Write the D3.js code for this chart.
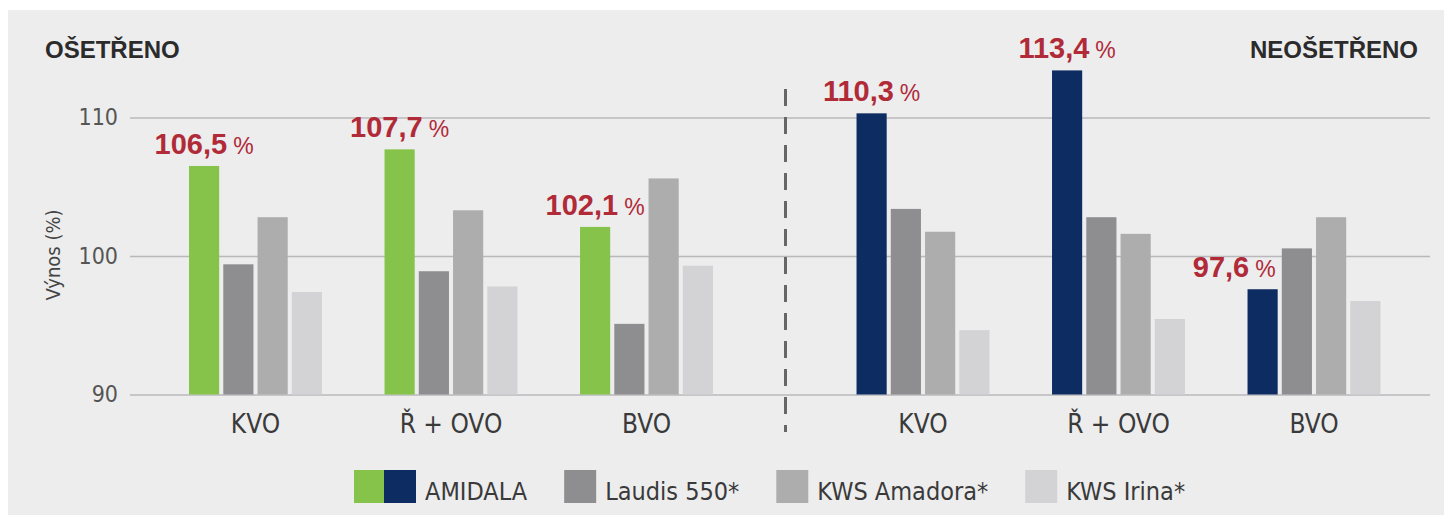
<!DOCTYPE html>
<html>
<head>
<meta charset="utf-8">
<script src="https://cdn.jsdelivr.net/npm/d3@7"></script>
<style>
body { margin: 0; background: #fff; }
text { font-family: "Liberation Sans Narrow", "DejaVu Sans Condensed", "Liberation Sans", sans-serif; }
</style>
</head>
<body>
<svg id="chart" width="1444" height="515"></svg>
<script>
// data
const groups = ['KVO', 'Ř + OVO', 'BVO']
const series = ['AMIDALA', 'Laudis 550*', 'KWS Amadora*', 'KWS Irina*']
const panelTitles = ['OŠETŘENO', 'NEOŠETŘENO']
const treated = [
    [106.5, 99.4, 102.8, 97.4],
    [107.7, 98.9, 103.3, 97.8],
    [102.1, 95.1, 105.6, 99.3]
]
const untreated = [
    [110.3, 103.4, 101.75, 94.65],
    [113.4, 102.8, 101.6, 95.45],
    [97.6, 100.55, 102.8, 96.75]
]
const yTicks = [90, 100, 110]

const colors = {
    'AMIDALA': ['#86c34a', '#0c2c62'],
    'Laudis 550*': '#8e8e90',
    'KWS Amadora*': '#adadae',
    'KWS Irina*': '#d3d3d5'
}
const red = '#b02a38'
const fmt = v => d3.format('.1f')(v).replace('.', ',')

const svg = d3.select('#chart')

svg.append('rect')
    .attr('x', 8).attr('y', 10)
    .attr('width', 1436).attr('height', 505)
    .attr('fill', '#ededee')

const gridLeft = 130, gridRight = 1430
const y = d3.scaleLinear().domain([90, 110]).range([394.5, 117.5])

// y axis with gridlines
const yAxis = svg.append('g')
    .attr('transform', 'translate(' + gridLeft + ',0)')
    .call(d3.axisLeft(y).tickValues(yTicks).tickSize(-(gridRight - gridLeft)).tickPadding(12))
yAxis.select('.domain').remove()
yAxis.selectAll('line').attr('stroke', '#b9b9bb').attr('stroke-width', 1.5)
yAxis.selectAll('text')
    .attr('fill', '#555')
    .style('font-size', '23px')

svg.append('text')
    .attr('transform', 'translate(60,255) rotate(-90)')
    .attr('text-anchor', 'middle')
    .attr('fill', '#444')
    .style('font-size', '20px')
    .text('Výnos (%)')

// two panels, each with its own band scale
const panels = [
    { title: panelTitles[0], values: treated, range: [157.75, 744.25], amidala: colors['AMIDALA'][0] },
    { title: panelTitles[1], values: untreated, range: [825.25, 1411.75], amidala: colors['AMIDALA'][1] }
]

panels.forEach((p, pi) => {
    const x0 = d3.scaleBand().domain(groups).range(p.range).paddingInner(0.32).paddingOuter(0.16)
    const x1 = d3.scaleBand().domain(series).range([0, x0.bandwidth()]).paddingInner(0.12)

    const g = svg.append('g')
    const grp = g.selectAll('.group')
        .data(groups)
        .enter().append('g')
        .attr('class', 'group')
        .attr('transform', d => 'translate(' + x0(d) + ',0)')

    grp.selectAll('rect')
        .data((d, i) => series.map((s, j) => ({ s: s, v: p.values[i][j] })))
        .enter().append('rect')
        .attr('x', d => x1(d.s))
        .attr('width', x1.bandwidth())
        .attr('y', d => y(d.v))
        .attr('height', d => y(90) - y(d.v))
        .attr('fill', d => d.s == 'AMIDALA' ? p.amidala : colors[d.s])

    // value label for AMIDALA
    grp.each(function (d, i) {
        const v = p.values[i][0]
        const below = v < 100
        const t = d3.select(this).append('text')
            .attr('x', below ? x1('AMIDALA') + x1.bandwidth() - 2 : x1('AMIDALA') + x1.bandwidth() / 2)
            .attr('y', y(v) - 12)
            .attr('text-anchor', below ? 'end' : 'middle')
            .attr('fill', red)
            .style('font-family', '"Liberation Sans", sans-serif')
        t.append('tspan').style('font-size', '29px').style('font-weight', 'bold').text(fmt(v))
        t.append('tspan').attr('dx', 6).style('font-size', '23px').text('%')
    })

    // category labels
    grp.append('text')
        .attr('x', x0.bandwidth() / 2)
        .attr('y', 433)
        .attr('text-anchor', 'middle')
        .attr('fill', '#3a3a3a')
        .style('font-size', '26px')
        .text(d => d)

    // panel title
    svg.append('text')
        .attr('x', pi == 0 ? 45 : 1418)
        .attr('y', 58)
        .attr('text-anchor', pi == 0 ? 'start' : 'end')
        .attr('fill', '#2b2b2b')
        .style('font-family', '"Liberation Sans", sans-serif')
        .style('font-size', '24px')
        .style('font-weight', 'bold')
        .text(p.title)
})

// dashed divider
svg.append('line')
    .attr('x1', 785.5).attr('x2', 785.5)
    .attr('y1', 89).attr('y2', 432)
    .attr('stroke', '#666')
    .attr('stroke-width', 3)
    .attr('stroke-dasharray', '17,11')

// legend
const legend = svg.append('g')
let lx = 354
series.forEach((s, i) => {
    const c = colors[s]
    const sw = Array.isArray(c) ? c : [c]
    sw.forEach((col, k) => {
        legend.append('rect')
            .attr('x', lx + k * 30).attr('y', 470)
            .attr('width', k < sw.length - 1 ? 30 : 32).attr('height', 33)
            .attr('fill', col)
    })
    lx += sw.length * 30 + 11
    const t = legend.append('text')
        .attr('x', lx).attr('y', 500)
        .attr('fill', '#3a3a3a')
        .style('font-size', '25px')
        .text(s)
    lx += t.node().getComputedTextLength() + 37
})
</script>
</body>
</html>
